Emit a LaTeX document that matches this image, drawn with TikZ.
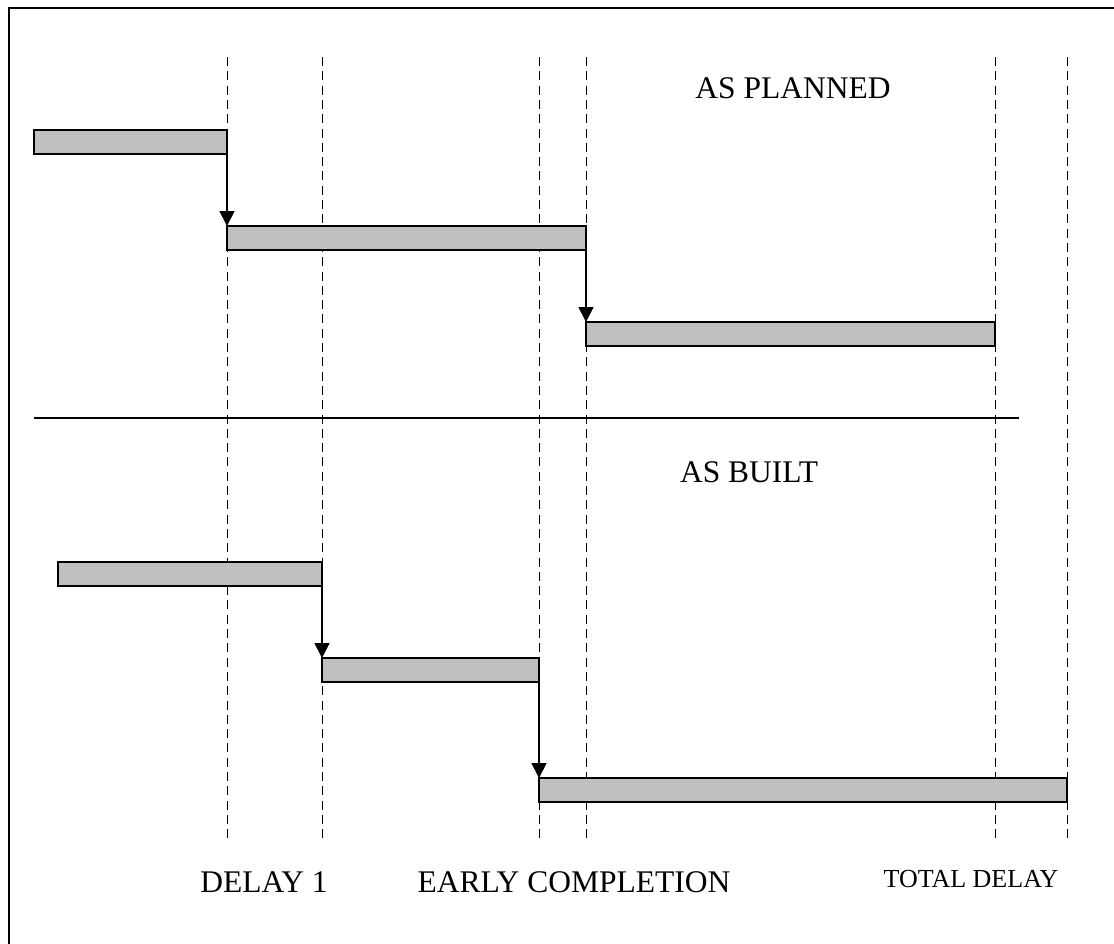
\documentclass[tikz,border=0pt]{standalone}
\usepackage{fontspec}
\setmainfont{Liberation Serif}
\usetikzlibrary{arrows.meta}
\definecolor{barfill}{RGB}{192,192,192}
\tikzset{
  bar/.style={draw=black, line width=1.6pt, fill=barfill, rectangle,
              minimum height=24pt, inner sep=0pt, outer sep=0pt, anchor=north west},
  link/.style={line width=1.8pt, -{Triangle[width=15pt,length=15pt]}},
  guide/.style={line width=1pt, dash pattern=on 9pt off 5.3pt},
  heading/.style={font=\fontsize{31.5}{36}\selectfont, inner sep=0pt, anchor=base},
  small/.style={font=\fontsize{26}{30}\selectfont, inner sep=0pt, anchor=base}
}
\begin{document}
\begin{tikzpicture}[x=1pt, y=-1pt]
\useasboundingbox (0,0) rectangle (1114,943);
% frame (top and left edges)
\draw[line width=1.4pt] (9,950) -- (9,8) -- (1120,8);

% vertical dashed guides
\foreach \gx/\gn in {227/ga, 322/gb, 539/gc, 586/gd, 995/ge, 1067/gf} {
  \coordinate (\gn-top) at (\gx,57);
  \coordinate (\gn-bot) at (\gx,843);
  \draw[guide] (\gn-top) -- (\gn-bot);
}

% divider between the two schedules
\coordinate (divl) at (34,418);
\coordinate (divr) at (1019,418);
\draw[line width=1.4pt] (divl) -- (divr);

% as planned
\node[bar, minimum width=193pt] (p1) at (34,130) {};
\node[bar, minimum width=359pt] (p2) at (227,226) {};
\node[bar, minimum width=409pt] (p3) at (586,322) {};
\draw[link] (p1.south east) -- (p2.north west);
\draw[link] (p2.south east) -- (p3.north west);

% as built
\node[bar, minimum width=264pt] (b1) at (58,562) {};
\node[bar, minimum width=217pt] (b2) at (322,658) {};
\node[bar, minimum width=528pt] (b3) at (539,778) {};
\draw[link] (b1.south east) -- (b2.north west);
\draw[link] (b2.south east) -- (b3.north west);

% labels
\node[heading] (tplan) at (793,98) {AS PLANNED};
\node[heading] (tbuilt) at (749,482) {AS BUILT};
\node[heading] (tdelay) at (264,892) {DELAY 1};
\node[heading] (tearly) at (574,892) {EARLY COMPLETION};
\node[small] (ttotal) at (971,887) {TOTAL DELAY};
\end{tikzpicture}
\end{document}
